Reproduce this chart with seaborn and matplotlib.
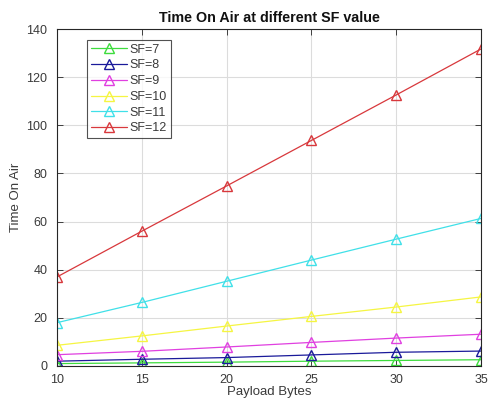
import matplotlib
matplotlib.use("Agg")
import matplotlib.pyplot as plt
from matplotlib.lines import Line2D
import seaborn as sns
import pandas as pd

payload = [10, 15, 20, 25, 30, 35]
sf7 = [1.0, 1.3, 1.6, 2.0, 2.3, 2.6]
sf8 = [2.0, 2.8, 3.5, 4.6, 5.7, 6.2]
sf9 = [4.7, 6.1, 7.9, 9.8, 11.6, 13.2]
sf10 = [8.6, 12.5, 16.6, 20.6, 24.5, 28.7]
sf11 = [18.0, 26.4, 35.2, 44.0, 52.7, 61.3]
sf12 = [37.0, 56.0, 74.8, 93.7, 112.6, 131.7]

labels = ["SF=7", "SF=8", "SF=9", "SF=10", "SF=11", "SF=12"]
series = [sf7, sf8, sf9, sf10, sf11, sf12]
colors = ["#3ddc3d", "#1a1a9a", "#e040e0", "#f5f542", "#40e0e8", "#d8383c"]

rows = []
for lab, vals in zip(labels, series):
    for x, v in zip(payload, vals):
        rows.append({"Payload Bytes": x, "Time On Air": v, "SF": lab})
df = pd.DataFrame(rows)

sns.set_theme(style="whitegrid")
plt.rcParams["font.family"] = ["Liberation Sans", "DejaVu Sans"]

txt = "#3a3a3a"
fig = plt.figure(figsize=(4.9, 3.99), dpi=100)
ax = fig.add_axes([57 / 490, 1 - 366 / 399, (481 - 57) / 490, (366 - 29) / 399])

sns.lineplot(data=df, x="Payload Bytes", y="Time On Air", hue="SF",
             hue_order=labels, palette=colors, marker="^", markersize=7,
             markerfacecolor="none", markeredgewidth=1.0, linewidth=0.9,
             ax=ax, legend=False)
# open triangle markers edged in each line's colour
for line, c in zip(ax.get_lines(), colors):
    line.set_markeredgecolor(c)
    line.set_markerfacecolor("none")

ax.set_xlim(10, 35)
ax.set_ylim(0, 140)
ax.set_xticks(payload)
ax.set_yticks(range(0, 141, 20))
ax.grid(True, color="#dcdcdc", linewidth=0.8)
ax.set_facecolor("white")
for sp in ax.spines.values():
    sp.set_color("#262626")
    sp.set_linewidth(0.8)
ax.tick_params(axis="both", direction="in", length=4, width=0.6, colors="#262626",
               labelsize=9, labelcolor=txt, top=True, right=True,
               bottom=True, left=True)
ax.tick_params(axis="x", pad=6)
ax.tick_params(axis="y", pad=7)
ax.set_xlabel("Payload Bytes", fontsize=9.5, color=txt, labelpad=0)
ax.set_ylabel("Time On Air", fontsize=9.5, color=txt, labelpad=3)
ax.set_title("Time On Air at different SF value", fontsize=10.3, fontweight="bold",
             color="#111111", pad=5)

handles = [Line2D([], [], color=c, marker="^", markersize=7, markerfacecolor="none",
                  markeredgecolor=c, linewidth=0.9) for c in colors]
leg = ax.legend(handles, labels, loc="upper left", bbox_to_anchor=(0.065, 0.975),
                fontsize=9, frameon=True, fancybox=False, handlelength=2.9,
                handletextpad=0.2, labelspacing=0.3, borderpad=0.3,
                borderaxespad=0.2, labelcolor=txt)
leg.get_frame().set_edgecolor("#262626")
leg.get_frame().set_linewidth(0.8)

fig.savefig("out.png", dpi=100)
